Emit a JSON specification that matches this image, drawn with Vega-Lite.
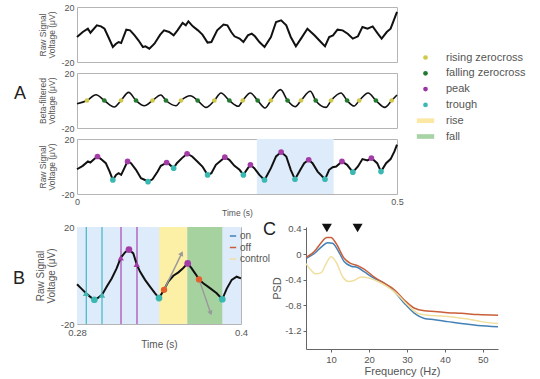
{
  "$schema": "https://vega.github.io/schema/vega-lite/v6.json",
  "padding": {"left": 12, "top": 2, "right": 0, "bottom": 0},
  "background": "white",
  "config": {
    "font": "Liberation Sans",
    "view": {"stroke": "#b5b5b5", "strokeWidth": 1},
    "axis": {"domain": false, "ticks": false, "grid": false, "labelFlush": false, "labelOverlap": false, "labelColor": "#555", "titleColor": "#555", "titleFontWeight": "normal", "labelFontSize": 9, "titleFontSize": 8.5, "labelPadding": 3, "titlePadding": 4, "titleLineHeight": 9.5}
  },
  "resolve": {"scale": {"color": "independent", "shape": "independent", "size": "independent"}},
  "bounds": "flush",
  "spacing": 11,
  "vconcat": [
    {
      "width": 320, "height": 55,
      "data": {"values": [
        {"t":0,"v":-1.8},{"t":0.009,"v":1.8},{"t":0.017,"v":4.2},{"t":0.021,"v":1.3},{"t":0.031,"v":6.7},{"t":0.0375,"v":5.9},{"t":0.043,"v":4.2},{"t":0.049,"v":-1.8},{"t":0.056,"v":-9.1},{"t":0.061,"v":-6.7},{"t":0.065,"v":-5.5},{"t":0.069,"v":-6.2},{"t":0.077,"v":3.5},{"t":0.083,"v":3.0},{"t":0.09,"v":-0.6},{"t":0.096,"v":-4.2},{"t":0.103,"v":-9.1},{"t":0.107,"v":-8.6},{"t":0.113,"v":-10.3},{"t":0.121,"v":-6.7},{"t":0.13,"v":-0.1},{"t":0.136,"v":3.0},{"t":0.144,"v":1.8},{"t":0.151,"v":-0.6},{"t":0.157,"v":3.0},{"t":0.165,"v":8.4},{"t":0.17,"v":6.7},{"t":0.174,"v":9.6},{"t":0.181,"v":5.9},{"t":0.189,"v":3.0},{"t":0.196,"v":-0.1},{"t":0.204,"v":-5.9},{"t":0.21,"v":-5.5},{"t":0.219,"v":3.0},{"t":0.229,"v":7.2},{"t":0.235,"v":6.7},{"t":0.241,"v":1.8},{"t":0.246,"v":-1.3},{"t":0.254,"v":-3.0},{"t":0.26,"v":-5.5},{"t":0.267,"v":-0.6},{"t":0.273,"v":0.6},{"t":0.278,"v":-1.3},{"t":0.285,"v":-5.5},{"t":0.293,"v":-9.1},{"t":0.303,"v":-1.8},{"t":0.311,"v":9.1},{"t":0.319,"v":10.3},{"t":0.327,"v":6.7},{"t":0.334,"v":-1.8},{"t":0.342,"v":-8.6},{"t":0.35,"v":-3.0},{"t":0.36,"v":4.2},{"t":0.371,"v":-0.6},{"t":0.381,"v":-5.5},{"t":0.3875,"v":-8.6},{"t":0.394,"v":-1.8},{"t":0.4,"v":-0.6},{"t":0.407,"v":3.5},{"t":0.415,"v":3.0},{"t":0.423,"v":0.6},{"t":0.431,"v":-3.0},{"t":0.439,"v":-1.3},{"t":0.446,"v":5.5},{"t":0.454,"v":4.2},{"t":0.462,"v":5.9},{"t":0.47,"v":0.6},{"t":0.476,"v":-3.0},{"t":0.484,"v":1.8},{"t":0.49,"v":4.2},{"t":0.496,"v":11.5},{"t":0.5,"v":16.4}
      ]},
      "mark": {"type": "line", "color": "#111", "strokeWidth": 2},
      "encoding": {
        "x": {"field": "t", "type": "quantitative", "scale": {"domain": [0, 0.5], "nice": false}, "axis": null},
        "y": {"field": "v", "type": "quantitative", "scale": {"domain": [-20, 20], "nice": false}, "axis": {"values": [-20, 20], "labelExpr": "'' + datum.value", "title": ["Raw Signal", "Voltage (μV)"]}}
      }
    },
    {
      "width": 320, "height": 55,
      "title": {"text": "A", "orient": "top", "anchor": "start", "frame": "group", "offset": 0, "dx": -63, "dy": 65, "fontSize": 18, "fontWeight": "normal", "baseline": "alphabetic", "color": "#222"},
      "layer": [
        {
          "data": {"values": [
            {"t":0,"v":-2.3},{"t":0.0156,"v":0},{"t":0.0297,"v":4.2},{"t":0.0427,"v":0},{"t":0.0583,"v":-4.7},{"t":0.0688,"v":0},{"t":0.0807,"v":5.9},{"t":0.0922,"v":0},{"t":0.1052,"v":-3.8},{"t":0.118,"v":0},{"t":0.131,"v":4.0},{"t":0.139,"v":0},{"t":0.1547,"v":-3.8},{"t":0.1625,"v":0},{"t":0.177,"v":3.5},{"t":0.1885,"v":0},{"t":0.2016,"v":-5.0},{"t":0.2146,"v":0},{"t":0.225,"v":5.5},{"t":0.238,"v":0},{"t":0.252,"v":-4.2},{"t":0.259,"v":0},{"t":0.2708,"v":5.5},{"t":0.2823,"v":0},{"t":0.2938,"v":-5.5},{"t":0.303,"v":0},{"t":0.318,"v":7.9},{"t":0.329,"v":0},{"t":0.341,"v":-4.5},{"t":0.35,"v":0},{"t":0.3646,"v":6.7},{"t":0.373,"v":0},{"t":0.389,"v":-5.0},{"t":0.397,"v":0},{"t":0.4125,"v":5.5},{"t":0.422,"v":0},{"t":0.433,"v":-4.0},{"t":0.441,"v":0},{"t":0.455,"v":5.5},{"t":0.467,"v":0},{"t":0.481,"v":-5.0},{"t":0.4917,"v":0},{"t":0.5,"v":4.0}
          ]},
          "mark": {"type": "line", "color": "#111", "strokeWidth": 1.6, "interpolate": "monotone"},
          "encoding": {
            "x": {"field": "t", "type": "quantitative", "scale": {"domain": [0, 0.5], "nice": false}, "axis": null},
            "y": {"field": "v", "type": "quantitative", "scale": {"domain": [-20, 20], "nice": false}, "axis": {"values": [-20, 20], "labelExpr": "'' + datum.value", "title": ["Beta-filtered", "Voltage (μV)"]}}
          }
        },
        {
          "data": {"values": [
            {"t":0.0156,"v":0,"type":"rising zerocross"},{"t":0.0427,"v":0,"type":"falling zerocross"},{"t":0.0688,"v":0,"type":"rising zerocross"},{"t":0.0922,"v":0,"type":"falling zerocross"},{"t":0.118,"v":0,"type":"rising zerocross"},{"t":0.139,"v":0,"type":"falling zerocross"},{"t":0.1625,"v":0,"type":"rising zerocross"},{"t":0.1885,"v":0,"type":"falling zerocross"},{"t":0.2146,"v":0,"type":"rising zerocross"},{"t":0.238,"v":0,"type":"falling zerocross"},{"t":0.259,"v":0,"type":"rising zerocross"},{"t":0.2823,"v":0,"type":"falling zerocross"},{"t":0.303,"v":0,"type":"rising zerocross"},{"t":0.329,"v":0,"type":"falling zerocross"},{"t":0.35,"v":0,"type":"rising zerocross"},{"t":0.373,"v":0,"type":"falling zerocross"},{"t":0.397,"v":0,"type":"rising zerocross"},{"t":0.422,"v":0,"type":"falling zerocross"},{"t":0.441,"v":0,"type":"rising zerocross"},{"t":0.467,"v":0,"type":"falling zerocross"},{"t":0.4917,"v":0,"type":"rising zerocross"}
          ]},
          "mark": {"type": "point", "filled": true, "opacity": 1},
          "encoding": {
            "x": {"field": "t", "type": "quantitative", "scale": {"domain": [0, 0.5], "nice": false}},
            "y": {"field": "v", "type": "quantitative", "scale": {"domain": [-20, 20], "nice": false}},
            "color": {"field": "type", "type": "nominal", "scale": {"domain": ["rising zerocross", "falling zerocross", "peak", "trough", "rise", "fall"], "range": ["#cfc84a", "#237a2e", "#9c34a4", "#3fb8b4", "#fbe8a4", "#a8d3a6"]},
              "legend": {"title": null, "orient": "none", "legendX": 343, "legendY": -21, "padding": 0, "labelFontSize": 11, "labelColor": "#555", "labelOffset": 15, "rowPadding": 3.8, "symbolStrokeWidth": 0}},
            "shape": {"field": "type", "type": "nominal", "scale": {"domain": ["rising zerocross", "falling zerocross", "peak", "trough", "rise", "fall"], "range": ["circle", "circle", "circle", "circle", "M-3.7,-1H3.7V1H-3.7Z", "M-3.7,-1H3.7V1H-3.7Z"]}},
            "size": {"field": "type", "type": "nominal", "scale": {"domain": ["rising zerocross", "falling zerocross", "peak", "trough", "rise", "fall"], "range": [22, 22, 22, 22, 36, 36]}}
          }
        }
      ]
    },
    {
      "width": 320, "height": 55,
      "layer": [
        {
          "data": {"values": [{"t1": 0.281, "t2": 0.401}]},
          "mark": {"type": "rect", "color": "#deebfa"},
          "encoding": {
            "x": {"field": "t1", "type": "quantitative", "scale": {"domain": [0, 0.5], "nice": false}},
            "x2": {"field": "t2"}
          }
        },
        {
          "data": {"values": [
            {"t":0,"v":-2},{"t":0.009,"v":0.5},{"t":0.017,"v":3.7},{"t":0.0208,"v":2.9},{"t":0.027,"v":5.4},{"t":0.032,"v":7.3},{"t":0.0375,"v":5.4},{"t":0.045,"v":2.4},{"t":0.051,"v":-3.7},{"t":0.056,"v":-9.8},{"t":0.061,"v":-6.1},{"t":0.065,"v":-4.9},{"t":0.069,"v":-6.1},{"t":0.074,"v":-1.2},{"t":0.079,"v":3.7},{"t":0.0844,"v":2.4},{"t":0.0922,"v":-2.4},{"t":0.1,"v":-8.5},{"t":0.1063,"v":-9.8},{"t":0.111,"v":-11},{"t":0.118,"v":-9.3},{"t":0.126,"v":-3.7},{"t":0.131,"v":0.5},{"t":0.136,"v":1.7},{"t":0.14,"v":2.9},{"t":0.144,"v":1.7},{"t":0.151,"v":-1.2},{"t":0.156,"v":2.4},{"t":0.164,"v":6.1},{"t":0.172,"v":9.3},{"t":0.18,"v":7.3},{"t":0.188,"v":3.7},{"t":0.196,"v":0},{"t":0.204,"v":-6.1},{"t":0.21,"v":-4.9},{"t":0.217,"v":1.2},{"t":0.225,"v":4.4},{"t":0.231,"v":6.8},{"t":0.238,"v":4.9},{"t":0.246,"v":0.5},{"t":0.254,"v":-2.4},{"t":0.26,"v":-6.1},{"t":0.267,"v":-1.2},{"t":0.271,"v":1.2},{"t":0.277,"v":-1.2},{"t":0.285,"v":-6.1},{"t":0.293,"v":-9.8},{"t":0.303,"v":-1.2},{"t":0.311,"v":7.3},{"t":0.319,"v":10.5},{"t":0.327,"v":7.3},{"t":0.334,"v":-2.4},{"t":0.3406,"v":-9.3},{"t":0.349,"v":-2.4},{"t":0.355,"v":2.4},{"t":0.362,"v":4.9},{"t":0.368,"v":2.4},{"t":0.376,"v":-3.7},{"t":0.3875,"v":-9.3},{"t":0.394,"v":-2.4},{"t":0.3995,"v":-0.5},{"t":0.405,"v":0},{"t":0.414,"v":3.7},{"t":0.422,"v":1.2},{"t":0.431,"v":-4.1},{"t":0.439,"v":0},{"t":0.446,"v":5.4},{"t":0.454,"v":4.4},{"t":0.46,"v":6.1},{"t":0.469,"v":2.4},{"t":0.475,"v":-3.7},{"t":0.483,"v":2.4},{"t":0.49,"v":5.4},{"t":0.496,"v":11},{"t":0.5,"v":15.9}
          ]},
          "mark": {"type": "line", "color": "#111", "strokeWidth": 2},
          "encoding": {
            "x": {"field": "t", "type": "quantitative", "scale": {"domain": [0, 0.5], "nice": false}, "axis": {"values": [0, 0.5], "labelExpr": "'' + datum.value", "title": "Time (s)", "titlePadding": 2}},
            "y": {"field": "v", "type": "quantitative", "scale": {"domain": [-20, 20], "nice": false}, "axis": {"values": [-20, 20], "labelExpr": "'' + datum.value", "title": ["Raw Signal", "Voltage (μV)"]}}
          }
        },
        {
          "data": {"values": [
            {"t":0.032,"v":7.3},{"t":0.079,"v":3.7},{"t":0.14,"v":2.9},{"t":0.172,"v":9.3},{"t":0.231,"v":6.8},{"t":0.271,"v":1.2},{"t":0.319,"v":10.5},{"t":0.362,"v":4.9},{"t":0.414,"v":3.7},{"t":0.46,"v":6.1}
          ]},
          "mark": {"type": "circle", "color": "#a43ca8", "size": 32, "opacity": 1},
          "encoding": {"x": {"field": "t", "type": "quantitative"}, "y": {"field": "v", "type": "quantitative"}}
        },
        {
          "data": {"values": [
            {"t":0.056,"v":-9.8},{"t":0.111,"v":-11},{"t":0.151,"v":-1.2},{"t":0.204,"v":-6.1},{"t":0.26,"v":-6.1},{"t":0.293,"v":-9.8},{"t":0.3406,"v":-9.3},{"t":0.3875,"v":-9.3},{"t":0.431,"v":-4.1},{"t":0.475,"v":-3.7}
          ]},
          "mark": {"type": "circle", "color": "#3cb8b2", "size": 32, "opacity": 1},
          "encoding": {"x": {"field": "t", "type": "quantitative"}, "y": {"field": "v", "type": "quantitative"}}
        }
      ]
    },
    {
      "width": 20, "height": 11,
      "view": {"stroke": null},
      "data": {"values": []},
      "mark": {"type": "point"},
      "encoding": {}
    },
    {
      "bounds": "flush",
      "spacing": 65,
      "hconcat": [
        {
          "width": 164, "height": 97,
          "title": {"text": "B", "orient": "top", "anchor": "start", "frame": "group", "offset": 0, "dx": -64, "dy": 80, "fontSize": 18, "fontWeight": "normal", "baseline": "alphabetic", "color": "#222"},
          "layer": [
            {
              "data": {"values": [{"t1": 0.28, "t2": 0.4}]},
              "mark": {"type": "rect", "color": "#deebfa"},
              "encoding": {
                "x": {"field": "t1", "type": "quantitative", "scale": {"domain": [0.28, 0.4], "nice": false}},
                "x2": {"field": "t2"}
              }
            },
            {
              "data": {"values": [{"t1": 0.3402, "t2": 0.3607}]},
              "mark": {"type": "rect", "color": "#fcefa6"},
              "encoding": {"x": {"field": "t1", "type": "quantitative"}, "x2": {"field": "t2"}}
            },
            {
              "data": {"values": [{"t1": 0.3607, "t2": 0.3863}]},
              "mark": {"type": "rect", "color": "#a6d2a0"},
              "encoding": {"x": {"field": "t1", "type": "quantitative"}, "x2": {"field": "t2"}}
            },
            {
              "data": {"values": [{"t": 0.2868}, {"t": 0.2983}]},
              "mark": {"type": "rule", "color": "#3fb8c4", "strokeWidth": 1.2},
              "encoding": {"x": {"field": "t", "type": "quantitative"}}
            },
            {
              "data": {"values": [{"t": 0.3122}, {"t": 0.3239}]},
              "mark": {"type": "rule", "color": "#a646b4", "strokeWidth": 1.2},
              "encoding": {"x": {"field": "t", "type": "quantitative"}}
            },
            {
              "data": {"values": [
                {"t":0.28,"v":-3.6},{"t":0.2834,"v":-5.5},{"t":0.2866,"v":-7.3},{"t":0.2895,"v":-8.7},{"t":0.2927,"v":-10},{"t":0.2956,"v":-9.1},{"t":0.2983,"v":-8},{"t":0.3017,"v":-4.6},{"t":0.3054,"v":-1.2},{"t":0.309,"v":2.9},{"t":0.312,"v":7.3},{"t":0.3151,"v":9.5},{"t":0.318,"v":10.7},{"t":0.3212,"v":9.1},{"t":0.3237,"v":4.6},{"t":0.3261,"v":1.6},{"t":0.3298,"v":-1.8},{"t":0.3334,"v":-4.6},{"t":0.337,"v":-7.3},{"t":0.34,"v":-9.3},{"t":0.3437,"v":-5.9},{"t":0.3468,"v":-2.5},{"t":0.3505,"v":-0.1},{"t":0.3542,"v":1.3},{"t":0.3574,"v":2.9},{"t":0.361,"v":5.0},{"t":0.3639,"v":2.9},{"t":0.3664,"v":0.9},{"t":0.3693,"v":-1.6},{"t":0.3724,"v":-3.2},{"t":0.3773,"v":-5.2},{"t":0.3822,"v":-7.3},{"t":0.3863,"v":-9.8},{"t":0.3895,"v":-5.5},{"t":0.3932,"v":-1.8},{"t":0.3968,"v":-0.5},{"t":0.4,"v":-1.2}
              ]},
              "mark": {"type": "line", "color": "#111", "strokeWidth": 2},
              "encoding": {
                "x": {"field": "t", "type": "quantitative", "scale": {"domain": [0.28, 0.4], "nice": false}, "axis": {"values": [0.28, 0.4], "labelExpr": "'' + datum.value", "title": "Time (s)", "labelFontSize": 9.5, "titleFontSize": 10, "titlePadding": 3}},
                "y": {"field": "v", "type": "quantitative", "scale": {"domain": [-20, 20], "nice": false}, "axis": {"values": [-20, 20], "labelExpr": "'' + datum.value", "title": ["Raw Signal", "Voltage (μV)"], "labelFontSize": 9.5, "titleFontSize": 10, "titleLineHeight": 11}}
              }
            },
            {
              "data": {"values": [{"t1": 0.3437, "v1": -5.9, "t2": 0.3566, "v2": 9.1}, {"t1": 0.3693, "v1": -1.6, "t2": 0.3778, "v2": -15.5}]},
              "mark": {"type": "rule", "color": "#9a9a9a", "strokeWidth": 1.5},
              "encoding": {"x": {"field": "t1", "type": "quantitative"}, "y": {"field": "v1", "type": "quantitative"}, "x2": {"field": "t2"}, "y2": {"field": "v2"}}
            },
            {
              "data": {"values": [{"t": 0.3566, "v": 9.1}]},
              "mark": {"type": "point", "shape": "triangle-up", "filled": true, "color": "#9a9a9a", "size": 30, "angle": 26, "opacity": 1},
              "encoding": {"x": {"field": "t", "type": "quantitative"}, "y": {"field": "v", "type": "quantitative"}}
            },
            {
              "data": {"values": [{"t": 0.3778, "v": -15.5}]},
              "mark": {"type": "point", "shape": "triangle-up", "filled": true, "color": "#9a9a9a", "size": 30, "angle": 161, "opacity": 1},
              "encoding": {"x": {"field": "t", "type": "quantitative"}, "y": {"field": "v", "type": "quantitative"}}
            },
            {
              "data": {"values": [{"t": 0.2866, "v": -7.3}, {"t": 0.2983, "v": -8}]},
              "mark": {"type": "point", "shape": "triangle-up", "filled": true, "color": "#3fb8b4", "size": 40, "opacity": 1},
              "encoding": {"x": {"field": "t", "type": "quantitative"}, "y": {"field": "v", "type": "quantitative"}}
            },
            {
              "data": {"values": [{"t": 0.312, "v": 7.3}, {"t": 0.3237, "v": 4.6}]},
              "mark": {"type": "point", "shape": "triangle-up", "filled": true, "color": "#a43ca8", "size": 40, "opacity": 1},
              "encoding": {"x": {"field": "t", "type": "quantitative"}, "y": {"field": "v", "type": "quantitative"}}
            },
            {
              "data": {"values": [{"t": 0.2927, "v": -10}, {"t": 0.34, "v": -9.3}, {"t": 0.3863, "v": -9.8}]},
              "mark": {"type": "circle", "color": "#3cb8b2", "size": 45, "opacity": 1},
              "encoding": {"x": {"field": "t", "type": "quantitative"}, "y": {"field": "v", "type": "quantitative"}}
            },
            {
              "data": {"values": [{"t": 0.318, "v": 10.7}, {"t": 0.361, "v": 5.0}]},
              "mark": {"type": "circle", "color": "#a43ca8", "size": 45, "opacity": 1},
              "encoding": {"x": {"field": "t", "type": "quantitative"}, "y": {"field": "v", "type": "quantitative"}}
            },
            {
              "data": {"values": [{"t": 0.3437, "v": -5.9}, {"t": 0.3693, "v": -1.6}]},
              "mark": {"type": "circle", "color": "#e4602e", "size": 40, "opacity": 1},
              "encoding": {"x": {"field": "t", "type": "quantitative"}, "y": {"field": "v", "type": "quantitative"}}
            }
          ]
        },
        {
          "width": 192, "height": 122,
          "view": {"stroke": null},
          "title": {"text": "C", "orient": "top", "anchor": "start", "frame": "group", "offset": 0, "dx": -43, "dy": 29, "fontSize": 18, "fontWeight": "normal", "baseline": "alphabetic", "color": "#222"},
          "layer": [
            {
              "data": {"values": [
                {"f":3.4,"psd":-0.07,"c":"on"},{"f":5.6,"psd":0.01,"c":"on"},{"f":7.4,"psd":0.11,"c":"on"},{"f":9.1,"psd":0.18,"c":"on"},{"f":10.4,"psd":0.17,"c":"on"},{"f":11.8,"psd":0.06,"c":"on"},{"f":13.5,"psd":-0.12,"c":"on"},{"f":15.3,"psd":-0.19,"c":"on"},{"f":17.0,"psd":-0.21,"c":"on"},{"f":18.8,"psd":-0.28,"c":"on"},{"f":21.4,"psd":-0.38,"c":"on"},{"f":24.1,"psd":-0.46,"c":"on"},{"f":26.7,"psd":-0.59,"c":"on"},{"f":29.3,"psd":-0.77,"c":"on"},{"f":32.0,"psd":-0.93,"c":"on"},{"f":34.6,"psd":-1.01,"c":"on"},{"f":37.3,"psd":-1.03,"c":"on"},{"f":40.8,"psd":-1.06,"c":"on"},{"f":44.3,"psd":-1.09,"c":"on"},{"f":48.7,"psd":-1.12,"c":"on"},{"f":54,"psd":-1.14,"c":"on"},
                {"f":3.4,"psd":-0.05,"c":"off"},{"f":5.6,"psd":0.04,"c":"off"},{"f":7.4,"psd":0.18,"c":"off"},{"f":8.9,"psd":0.26,"c":"off"},{"f":10.0,"psd":0.26,"c":"off"},{"f":11.3,"psd":0.17,"c":"off"},{"f":13.5,"psd":-0.07,"c":"off"},{"f":15.3,"psd":-0.15,"c":"off"},{"f":17.0,"psd":-0.18,"c":"off"},{"f":18.8,"psd":-0.24,"c":"off"},{"f":21.4,"psd":-0.36,"c":"off"},{"f":24.1,"psd":-0.46,"c":"off"},{"f":26.7,"psd":-0.56,"c":"off"},{"f":29.3,"psd":-0.72,"c":"off"},{"f":32.0,"psd":-0.85,"c":"off"},{"f":34.6,"psd":-0.89,"c":"off"},{"f":37.3,"psd":-0.9,"c":"off"},{"f":40.8,"psd":-0.92,"c":"off"},{"f":44.3,"psd":-0.93,"c":"off"},{"f":48.7,"psd":-0.95,"c":"off"},{"f":54,"psd":-0.96,"c":"off"},
                {"f":3.4,"psd":-0.15,"c":"control"},{"f":4.7,"psd":-0.25,"c":"control"},{"f":6.0,"psd":-0.31,"c":"control"},{"f":7.4,"psd":-0.29,"c":"control"},{"f":8.7,"psd":-0.15,"c":"control"},{"f":10.0,"psd":-0.04,"c":"control"},{"f":11.3,"psd":-0.12,"c":"control"},{"f":13.1,"psd":-0.36,"c":"control"},{"f":14.6,"psd":-0.43,"c":"control"},{"f":16.2,"psd":-0.41,"c":"control"},{"f":17.9,"psd":-0.36,"c":"control"},{"f":19.7,"psd":-0.37,"c":"control"},{"f":22.3,"psd":-0.43,"c":"control"},{"f":25.0,"psd":-0.52,"c":"control"},{"f":27.6,"psd":-0.64,"c":"control"},{"f":30.2,"psd":-0.8,"c":"control"},{"f":32.9,"psd":-0.93,"c":"control"},{"f":35.5,"psd":-0.96,"c":"control"},{"f":39.0,"psd":-0.97,"c":"control"},{"f":42.5,"psd":-0.99,"c":"control"},{"f":46.1,"psd":-1.02,"c":"control"},{"f":49.6,"psd":-1.06,"c":"control"},{"f":54,"psd":-1.09,"c":"control"}
              ]},
              "mark": {"type": "line", "strokeWidth": 1.5, "interpolate": "monotone"},
              "encoding": {
                "x": {"field": "f", "type": "quantitative", "scale": {"domain": [3.4, 54], "nice": false}, "axis": {"values": [10, 20, 30, 40, 50], "labelExpr": "'' + datum.value", "labelOverlap": false, "title": "Frequency (Hz)", "domain": true, "domainColor": "#666", "ticks": true, "tickColor": "#666", "tickSize": 3, "labelFontSize": 9.5, "titleFontSize": 11, "labelPadding": 2, "titlePadding": 2}},
                "y": {"field": "psd", "type": "quantitative", "scale": {"domain": [-1.49, 0.426], "nice": false}, "axis": {"values": [0.4, 0, -0.4, -0.8, -1.2], "labelExpr": "'' + datum.value", "labelOverlap": false, "labelBound": false, "title": "PSD", "domain": true, "domainColor": "#666", "ticks": true, "tickColor": "#666", "tickSize": 3, "labelFontSize": 9.5, "titleFontSize": 11, "labelPadding": 2, "titlePadding": 2}},
                "color": {"field": "c", "type": "nominal", "sort": ["on", "off", "control"], "scale": {"domain": ["on", "off", "control"], "range": ["#4481b6", "#c95f3a", "#f1df9e"]},
                  "legend": {"title": null, "orient": "none", "legendX": 151, "legendY": 4, "padding": 0, "labelFontSize": 10, "labelColor": "#555", "labelOffset": 2, "rowPadding": 1.5, "symbolSize": 40, "symbolStrokeWidth": 1.5}}
              }
            },
            {
              "data": {"values": [{"f": 8.9, "psd": 0.41}, {"f": 17.0, "psd": 0.41}]},
              "mark": {"type": "point", "shape": "triangle-down", "filled": true, "color": "#111", "size": 100, "opacity": 1, "clip": false},
              "encoding": {
                "x": {"field": "f", "type": "quantitative", "scale": {"domain": [3.4, 54], "nice": false}, "axis": {"values": [10, 20, 30, 40, 50], "labelExpr": "'' + datum.value", "labelOverlap": false, "title": "Frequency (Hz)", "domain": true, "domainColor": "#666", "ticks": true, "tickColor": "#666", "tickSize": 3, "labelFontSize": 9.5, "titleFontSize": 11, "labelPadding": 2, "titlePadding": 2}},
                "y": {"field": "psd", "type": "quantitative", "scale": {"domain": [-1.49, 0.426], "nice": false}, "axis": {"values": [0.4, 0, -0.4, -0.8, -1.2], "labelExpr": "'' + datum.value", "labelOverlap": false, "labelBound": false, "title": "PSD", "domain": true, "domainColor": "#666", "ticks": true, "tickColor": "#666", "tickSize": 3, "labelFontSize": 9.5, "titleFontSize": 11, "labelPadding": 2, "titlePadding": 2}}
              }
            }
          ]
        }
      ]
    }
  ]
}
